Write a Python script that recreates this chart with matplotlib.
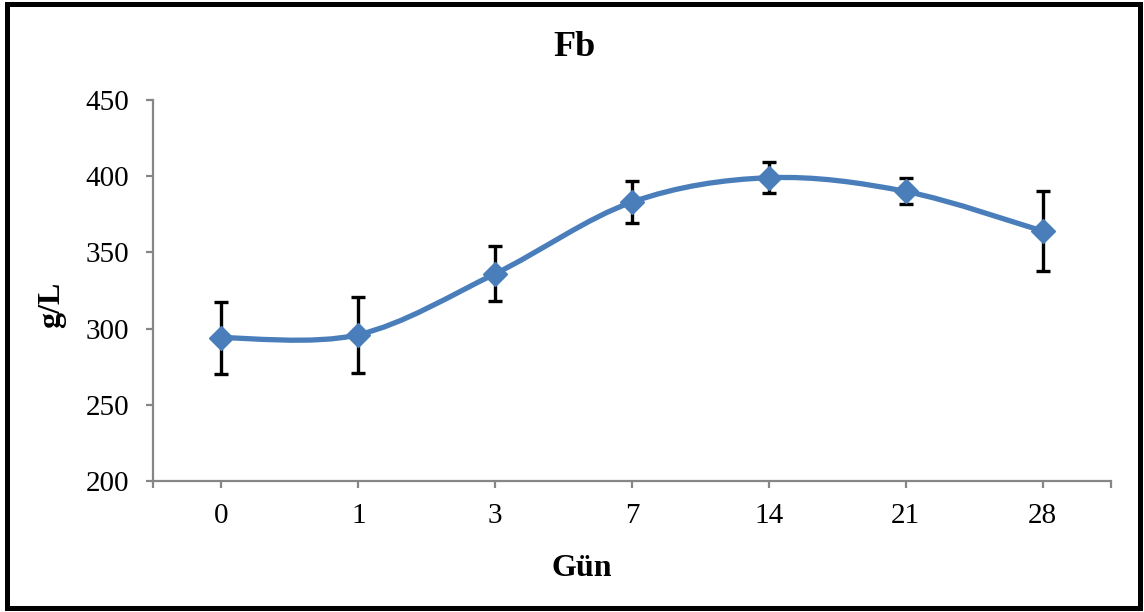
#!/usr/bin/env python3
"""Fb (g/L) over storage days, Excel-style smoothed line with error bars."""

import matplotlib
matplotlib.use("Agg")
import matplotlib.pyplot as plt
import numpy as np
from matplotlib.patches import PathPatch, Rectangle
from matplotlib.path import Path

# ---------- data ----------------------------------------------------------
days = ["0", "1", "3", "7", "14", "21", "28"]
fb_mean = [294, 296, 336, 383, 399, 390, 364]
fb_err = [23.5, 25, 18, 14, 10, 8.5, 26]

COLOR_LINE = "#4A7EBB"
COLOR_AXIS = "#868686"
COLOR_FG = "#000000"

plt.rcParams.update({
    "font.family": ["Liberation Serif", "DejaVu Serif"],
    "font.size": 21,
})


def smooth_path(x, y):
    """Excel-like smoothed line: cubic Bezier segments, Catmull-Rom tangents / 6."""
    pts = np.column_stack([x, y]).astype(float)
    n = len(pts)
    verts = [pts[0]]
    codes = [Path.MOVETO]
    for i in range(n - 1):
        p_prev = pts[i - 1] if i > 0 else pts[i]
        p_next2 = pts[i + 2] if i + 2 < n else pts[i + 1]
        c1 = pts[i] + (pts[i + 1] - p_prev) / 6.0
        c2 = pts[i + 1] - (p_next2 - pts[i]) / 6.0
        verts += [c1, c2, pts[i + 1]]
        codes += [Path.CURVE4] * 3
    return Path(verts, codes)


fig = plt.figure(figsize=(11.44, 6.12), dpi=100)
ax = fig.add_axes([153 / 1144, 1 - 481 / 612, (1111 - 153) / 1144, (481 - 100) / 612])

xs = np.arange(len(days))

ax.errorbar(xs, fb_mean, yerr=fb_err, fmt="none", ecolor=COLOR_FG,
            elinewidth=2.4, capsize=5, capthick=2.4, zorder=2)
ax.add_patch(PathPatch(smooth_path(xs, fb_mean), facecolor="none",
                       edgecolor=COLOR_LINE, lw=3.8, zorder=3,
                       capstyle="round", joinstyle="round"))
ax.plot(xs, fb_mean, "D", color=COLOR_LINE, markersize=12, zorder=4)

ax.set_xlim(-0.5, len(days) - 0.5)
ax.set_ylim(200, 450)
ax.set_yticks(range(200, 451, 50))
ax.set_xticks(xs)
ax.set_xticklabels(days)
ax.set_xticks([-0.5, len(days) - 0.5], minor=True)

for side in ("top", "right"):
    ax.spines[side].set_visible(False)
for side in ("left", "bottom"):
    ax.spines[side].set_color(COLOR_AXIS)
    ax.spines[side].set_linewidth(1.6)

ax.tick_params(axis="both", which="both", direction="out", color=COLOR_AXIS,
               width=1.6, length=5)
ax.tick_params(axis="y", pad=12)
ax.tick_params(axis="x", pad=11)

fig.text(575 / 1144, 1 - 48 / 612, "Fb", ha="center", va="center",
         fontsize=26, fontweight="bold")
fig.text(582 / 1144, 1 - 568 / 612, "Gün", ha="center", va="center",
         fontsize=23, fontweight="bold")
fig.text(52 / 1144, 1 - 305 / 612, "g/L", ha="center", va="center",
         rotation=90, fontsize=23, fontweight="bold")

# black frame around the whole chart area
fig.patches.append(Rectangle((6.5 / 1144, 4 / 612), (1140 - 6.5) / 1144,
                             (608 - 4) / 612, transform=fig.transFigure,
                             fill=False, edgecolor=COLOR_FG, lw=3.6))

fig.savefig("out.png", dpi=100, facecolor="white")
